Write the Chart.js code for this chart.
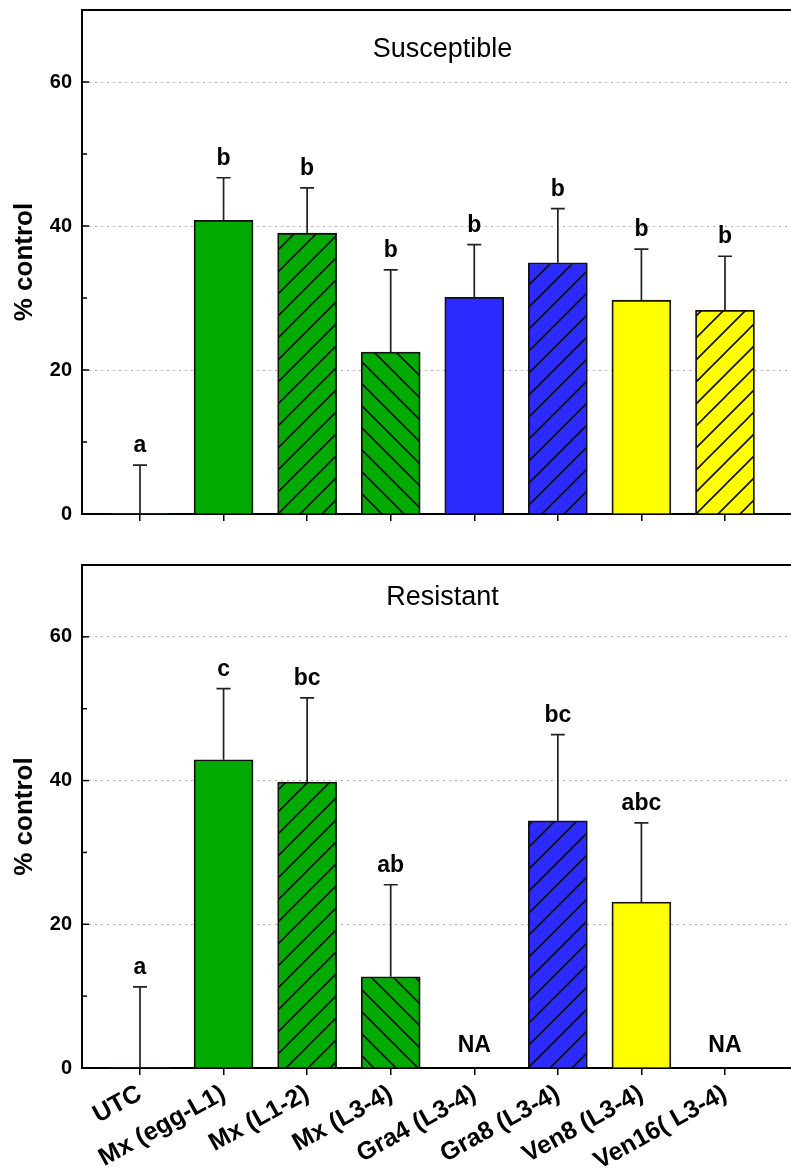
<!DOCTYPE html>
<html>
<head>
<meta charset="utf-8">
<script src="https://cdn.jsdelivr.net/npm/chart.js@4.4.1/dist/chart.umd.min.js"></script>
<style>
  html, body { margin: 0; padding: 0; background: #fff; }
  #wrap { position: relative; width: 791px; height: 1173px; overflow: hidden; }
  #topChart { position: absolute; left: 0; top: 0; }
  #botChart { position: absolute; left: 0; top: 540px; }
</style>
</head>
<body>
<div id="wrap">
  <canvas id="topChart" width="791" height="540"></canvas>
  <canvas id="botChart" width="791" height="633"></canvas>
</div>
<script>
    const categories = ['UTC', 'Mx (egg-L1)', 'Mx (L1-2)', 'Mx (L3-4)', 'Gra4 (L3-4)', 'Gra8 (L3-4)', 'Ven8 (L3-4)', 'Ven16( L3-4)'];
    const yTicks = [0, 20, 40, 60];

    // Susceptible panel: mean and top of error bar
    const susMeans = [0, 40.8, 39.0, 22.5, 30.1, 34.9, 29.7, 28.3];
    const susUpper = [6.8, 46.7, 45.3, 33.9, 37.4, 42.4, 36.8, 35.8];
    const susLetters = ['a', 'b', 'b', 'b', 'b', 'b', 'b', 'b'];

    // Resistant panel (null = NA)
    const resMeans = [0, 42.9, 39.8, 12.7, null, 34.4, 23.1, null];
    const resUpper = [11.3, 52.8, 51.5, 25.5, null, 46.4, 34.1, null];
    const resLetters = ['a', 'c', 'bc', 'ab', 'NA', 'bc', 'abc', 'NA'];

    const fills = ['#00aa00', '#00aa00', '#00aa00', '#00aa00', '#2b2bff', '#2b2bff', '#ffff00', '#ffff00'];
    const hatches = ['', '', '/', '\\', '', '/', '', '/'];

    const FONT = "'Liberation Sans', Arial, sans-serif";

    function makeHatch(ctx, color, dir) {
        const s = 22;
        const c = document.createElement('canvas');
        c.width = s; c.height = s;
        const g = c.getContext('2d');
        g.fillStyle = color;
        g.fillRect(0, 0, s, s);
        g.strokeStyle = '#111';
        g.lineWidth = 1.6;
        g.beginPath();
        if (dir === '/') {
            g.moveTo(-2, s + 2); g.lineTo(s + 2, -2);
            g.moveTo(-2, 2); g.lineTo(2, -2);
            g.moveTo(s - 2, s + 2); g.lineTo(s + 2, s - 2);
        } else {
            g.moveTo(-2, -2); g.lineTo(s + 2, s + 2);
            g.moveTo(s - 2, -2); g.lineTo(s + 2, 2);
            g.moveTo(-2, s - 2); g.lineTo(2, s + 2);
        }
        g.stroke();
        return ctx.createPattern(c, 'repeat');
    }

    function makePanel(id, title, titleDy, means, upper, letters, plotTop, xAxisHeight, showLabels) {
        const canvas = document.getElementById(id);
        const ctx = canvas.getContext('2d');

        const colors = fills.map((f, i) => hatches[i] ? makeHatch(ctx, f, hatches[i]) : f);

        const panelPlugin = {
            id: 'panel',
            afterDatasetsDraw(chart) {
                const c = chart.ctx;
                const xs = chart.scales.x, ys = chart.scales.y;
                c.save();
                c.strokeStyle = '#222';
                c.lineWidth = 1.7;
                upper.forEach((u, i) => {
                    if (u == null) return;
                    const x = xs.getPixelForValue(i);
                    const y0 = ys.getPixelForValue(means[i] || 0);
                    const y1 = ys.getPixelForValue(u);
                    c.beginPath();
                    c.moveTo(x, y0); c.lineTo(x, y1);
                    c.moveTo(x - 7, y1); c.lineTo(x + 7, y1);
                    c.stroke();
                });
                c.fillStyle = '#000';
                c.font = 'bold 23px ' + FONT;
                c.textAlign = 'center';
                c.textBaseline = 'alphabetic';
                letters.forEach((t, i) => {
                    const x = xs.getPixelForValue(i);
                    const y = upper[i] != null ? ys.getPixelForValue(upper[i]) - 13 : ys.getPixelForValue(0) - 16;
                    c.fillText(t, x, y);
                });
                c.restore();
            },
            afterDraw(chart) {
                const c = chart.ctx;
                const a = chart.chartArea;
                const ys = chart.scales.y;
                c.save();
                c.strokeStyle = '#000';
                c.lineWidth = 2;
                c.beginPath();
                c.moveTo(a.left - 1, a.top); c.lineTo(a.right, a.top);
                c.stroke();
                // inner y tick marks
                c.lineWidth = 1.5;
                for (let v = 0; v <= 60; v += 10) {
                    const y = ys.getPixelForValue(v);
                    const len = v % 20 === 0 ? 7 : 5;
                    c.beginPath();
                    c.moveTo(a.left, y); c.lineTo(a.left + len, y);
                    c.stroke();
                }
                c.fillStyle = '#000';
                c.font = '27px ' + FONT;
                c.textAlign = 'center';
                c.textBaseline = 'alphabetic';
                c.fillText(title, (a.left + a.right) / 2 + 6, a.top + titleDy);
                c.restore();
            }
        };

        return new Chart(ctx, {
            type: 'bar',
            data: {
                datasets: [{
                    data: means.map((v, i) => ({ x: i, y: v })),
                    backgroundColor: colors,
                    borderColor: '#111',
                    borderWidth: means.map(v => v ? 1.8 : 0),
                    barThickness: 59
                }]
            },
            options: {
                responsive: false,
                animation: false,
                layout: { padding: { top: plotTop, left: 0, right: 0, bottom: 0 } },
                plugins: { legend: { display: false }, tooltip: { enabled: false } },
                scales: {
                    x: {
                        type: 'linear',
                        min: -0.694,
                        max: 7.79,
                        offset: false,
                        afterBuildTicks: s => { s.ticks = categories.map((_, i) => ({ value: i })); },
                        afterFit: s => { s.height = xAxisHeight; s.paddingLeft = 0; s.paddingRight = 0; },
                        grid: { offset: false, drawOnChartArea: false, drawTicks: true, tickLength: 7, color: '#000', lineWidth: 1.5 },
                        border: { display: true, color: '#000', width: 2 },
                        ticks: {
                            display: showLabels,
                            autoSkip: false,
                            minRotation: 29,
                            maxRotation: 29,
                            padding: 4,
                            color: '#000',
                            font: { family: FONT, size: 25, weight: 'bold' },
                            callback: v => categories[v]
                        }
                    },
                    y: {
                        min: 0,
                        max: 70,
                        afterBuildTicks: s => { s.ticks = yTicks.map(v => ({ value: v })); },
                        afterFit: s => { s.width = 82; s.paddingTop = 0; s.paddingBottom = 0; },
                        grid: {
                            drawTicks: false,
                            lineWidth: 1,
                            color: c => c.tick && c.tick.value === 0 ? 'rgba(0,0,0,0)' : '#b0b0b0'
                        },
                        border: { display: true, color: '#000', width: 2, dash: [2, 4] },
                        ticks: {
                            padding: 10,
                            color: '#000',
                            font: { family: FONT, size: 20, weight: 'bold' }
                        },
                        title: {
                            display: true,
                            text: '% control',
                            color: '#000',
                            padding: { top: 9, bottom: 0 },
                            font: { family: FONT, size: 26, weight: 'bold' }
                        }
                    }
                }
            },
            plugins: [panelPlugin]
        });
    }

    makePanel('topChart', 'Susceptible', 47, susMeans, susUpper, susLetters, 10, 26, false);
    makePanel('botChart', 'Resistant', 40, resMeans, resUpper, resLetters, 25, 105, true);
</script>
</body>
</html>
